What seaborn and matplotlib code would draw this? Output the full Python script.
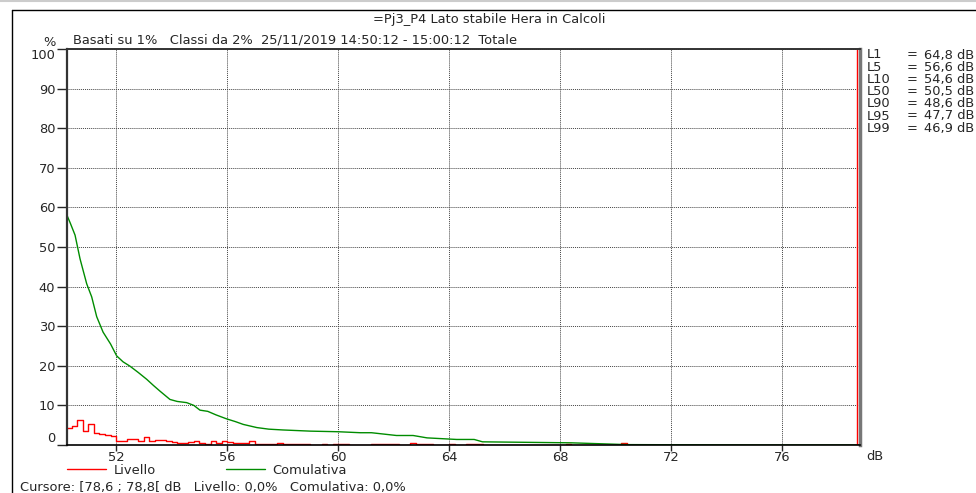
import numpy as np
import pandas as pd
import seaborn as sns
import matplotlib.pyplot as plt
from matplotlib.lines import Line2D

# Livello: percentage per 0.2 dB class (class start in dB)
livello_db = [50.2, 50.4, 50.6, 50.8, 51.0, 51.2, 51.4, 51.6, 51.8, 52.0,
              52.2, 52.4, 52.6, 52.8, 53.0, 53.2, 53.4, 53.6, 53.8, 54.0,
              54.2, 54.4, 54.6, 54.8, 55.0, 55.2, 55.4, 55.6, 55.8, 56.0,
              56.2, 56.4, 56.6, 56.8, 57.0, 57.2, 57.4, 57.6, 57.8, 58.0,
              58.2, 58.4, 58.6, 58.8, 59.0, 59.2, 59.4, 59.6, 59.8, 60.0,
              60.2, 60.4, 60.6, 60.8, 61.0, 61.2, 61.4, 61.6, 61.8, 62.0,
              62.2, 62.4, 62.6, 62.8, 63.0, 63.2, 63.4, 63.6, 63.8, 64.0,
              64.2, 64.4, 64.6, 64.8, 65.0, 68.2, 70.2]
livello_pct = [4.4, 4.8, 6.2, 3.5, 5.4, 3.1, 2.8, 2.5, 2.2, 1.1,
               1.0, 1.4, 1.6, 1.0, 2.0, 1.1, 1.3, 1.3, 1.0, 0.7,
               0.4, 0.6, 0.8, 1.0, 0.4, 0.3, 1.1, 0.6, 1.1, 0.7,
               0.4, 0.6, 0.4, 1.0, 0.3, 0.3, 0.3, 0.2, 0.5, 0.3,
               0.3, 0.3, 0.2, 0.3, 0.1, 0.1, 0.3, 0.1, 0.3, 0.3,
               0.3, 0.1, 0.1, 0.1, 0.1, 0.3, 0.3, 0.3, 0.3, 0.3,
               0.1, 0.1, 0.5, 0.3, 0.3, 0.3, 0.1, 0.1, 0.1, 0.3,
               0.1, 0.1, 0.3, 0.3, 0.3, 0.3, 0.4]

# Comulativa
cum_db = [50.2, 50.35, 50.52, 50.7, 50.94, 51.12, 51.3, 51.53, 51.8, 52.02,
          52.25, 52.5, 52.8, 53.1, 53.35, 53.58, 53.94, 54.2, 54.54, 54.8,
          55.02, 55.3, 55.6, 55.98, 56.3, 56.58, 57.07, 57.5, 58.0, 59.0,
          60.0, 60.8, 61.2, 62.1, 62.7, 63.2, 64.27, 64.9, 65.2, 68.4,
          70.4, 75.2, 78.8]
cum_pct = [58.5, 56.0, 53.0, 47.0, 40.7, 37.4, 32.4, 28.5, 25.5, 22.5,
           21.0, 19.9, 18.3, 16.6, 15.0, 13.6, 11.5, 11.0, 10.7, 10.0,
           8.8, 8.5, 7.6, 6.6, 5.9, 5.2, 4.4, 4.0, 3.8, 3.5,
           3.35, 3.1, 3.1, 2.4, 2.4, 1.8, 1.4, 1.4, 0.8, 0.55,
           0.1, 0.0, 0.0]

stat_names = ['L1', 'L5', 'L10', 'L50', 'L90', 'L95', 'L99']
stat_values = ['64,8 dB', '56,6 dB', '54,6 dB', '50,5 dB', '48,6 dB', '47,7 dB', '46,9 dB']

x_ticks = [52, 56, 60, 64, 68, 72, 76]
y_ticks = [0, 10, 20, 30, 40, 50, 60, 70, 80, 90, 100]

# full class grid, empty classes are 0
classes = np.round(np.arange(50.2, 78.61, 0.2), 1)
liv = pd.Series(livello_pct, index=np.round(livello_db, 1)).reindex(classes, fill_value=0.0)
liv_df = pd.DataFrame({'dB': np.append(classes, 78.8), 'pct': np.append(liv.values, liv.values[-1])})
cum_df = pd.DataFrame({'dB': cum_db, 'pct': cum_pct})

sns.set_style("white")
plt.rcParams['font.family'] = ['DejaVu Sans']
FS = 9.4

W, H = 976, 493
fig = plt.figure(figsize=(W / 100, H / 100), dpi=100)
ax = fig.add_axes([67 / W, 1 - 445 / H, (860 - 67) / W, (445 - 49) / H])

sns.lineplot(data=liv_df, x='dB', y='pct', drawstyle='steps-post', color='#ff0000',
             lw=1, ax=ax, label='Livello')
sns.lineplot(data=cum_df, x='dB', y='pct', color='#008c00', lw=1, ax=ax, label='Comulativa')
ax.axvline(78.7, color='#ff0000', lw=1)

ax.set_xlim(50.23, 78.8)
ax.set_ylim(0, 100)
ax.set_xticks(x_ticks)
ax.set_yticks(y_ticks)
ax.set_xlabel('')
ax.set_ylabel('')
ax.grid(True, ls=(0, (1, 1)), color='#444444', lw=0.7)
ax.tick_params(axis='y', direction='out', length=7, width=1, pad=1.5, labelsize=FS, left=True)
ax.tick_params(axis='x', direction='out', length=4, width=1, pad=0.6, labelsize=FS, bottom=True)
ylabels = ax.get_yticklabels()
ylabels[0].set_va('bottom')
ylabels[-1].set_va('top')
for s, lw, c in [('left', 1.6, '#333333'), ('bottom', 1.2, 'black'),
                 ('top', 1.4, '#333333'), ('right', 2.5, '#777777')]:
    ax.spines[s].set_linewidth(lw)
    ax.spines[s].set_color(c)

ax.get_legend().remove()
h, l = ax.get_legend_handles_labels()
fig.legend(h, l, loc='center left', bbox_to_anchor=(67 / W, 1 - 470.5 / H), ncol=2,
           frameon=False, fontsize=FS, handlelength=3.0, handletextpad=0.55,
           columnspacing=5.4, borderaxespad=0, borderpad=0)

fig.text(489 / W, 1 - 19 / H, '=Pj3_P4 Lato stabile Hera in Calcoli', ha='center', va='center', fontsize=FS)
fig.text(43 / W, 1 - 43 / H, '%', ha='left', va='center', fontsize=FS)
fig.text(73 / W, 1 - 40 / H, 'Basati su 1%   Classi da 2%  25/11/2019 14:50:12 - 15:00:12  Totale',
         ha='left', va='center', fontsize=FS)
fig.text(866 / W, 1 - 457 / H, 'dB', ha='left', va='center', fontsize=FS)
fig.text(20 / W, 1 - 487 / H, 'Cursore: [78,6 ; 78,8[ dB   Livello: 0,0%   Comulativa: 0,0%',
         ha='left', va='center', fontsize=FS)

for i, (n, v) in enumerate(zip(stat_names, stat_values)):
    yy = 1 - (55 + i * 12.2) / H
    fig.text(867 / W, yy, n, ha='left', va='center', fontsize=FS)
    fig.text(907 / W, yy, '=', ha='left', va='center', fontsize=FS)
    fig.text(924 / W, yy, v, ha='left', va='center', fontsize=FS)

# window frame
fig.add_artist(Line2D([0, 1], [1 - 0.5 / H, 1 - 0.5 / H], transform=fig.transFigure, color='#cccccc', lw=1.5))
fig.add_artist(Line2D([12 / W, 1], [1 - 10 / H, 1 - 10 / H], transform=fig.transFigure, color='black', lw=1))
fig.add_artist(Line2D([12 / W, 12 / W], [0, 1 - 10 / H], transform=fig.transFigure, color='black', lw=1))

fig.savefig('out.png', dpi=100)
